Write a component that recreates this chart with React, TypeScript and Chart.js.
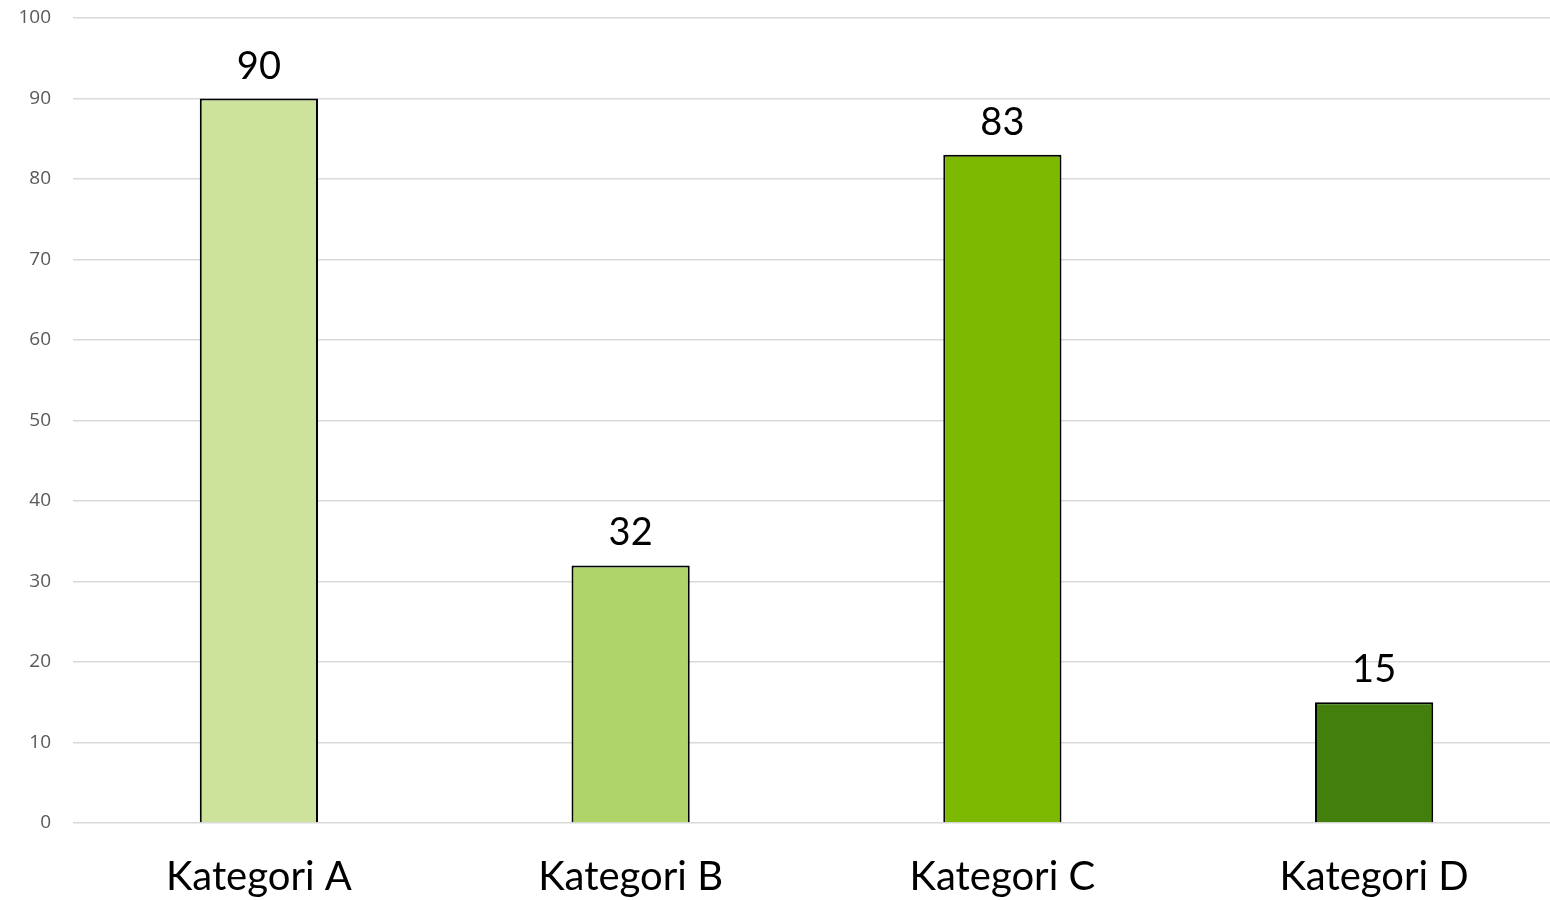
import React, { useEffect, useRef } from "react";
import { Chart, registerables } from "chart.js";

Chart.register(...registerables);

const categories = ["Kategori A", "Kategori B", "Kategori C", "Kategori D"];
const values = [90, 32, 83, 15];
const barColors = ["#cde39b", "#afd468", "#7cb900", "#437f0c"];
const yTicks = [0, 10, 20, 30, 40, 50, 60, 70, 80, 90, 100];

const labelFont = "Lato, 'Noto Sans', sans-serif";

const valueLabelPlugin = {
  id: "valueLabels",
  afterDatasetsDraw(chart: any) {
    const ctx = chart.ctx;
    const meta = chart.getDatasetMeta(0);
    ctx.save();
    ctx.font = `38px ${labelFont}`;
    ctx.fillStyle = "#000000";
    ctx.textAlign = "center";
    ctx.textBaseline = "alphabetic";
    meta.data.forEach((bar: any, i: number) => {
      ctx.fillText(String(values[i]), bar.x, bar.y - 20);
    });
    ctx.restore();
  },
};

export default function App() {
  const canvasRef = useRef<HTMLCanvasElement | null>(null);

  useEffect(() => {
    if (!canvasRef.current) return;
    const chart = new Chart(canvasRef.current, {
      type: "bar",
      data: {
        labels: categories,
        datasets: [
          {
            data: values,
            backgroundColor: barColors,
            borderColor: "#000000",
            borderWidth: 2,
            categoryPercentage: 1,
            barPercentage: 0.318,
          },
        ],
      },
      options: {
        animation: false,
        responsive: false,
        maintainAspectRatio: false,
        layout: { padding: { top: 18, right: 2, left: 0, bottom: 0 } },
        plugins: {
          legend: { display: false },
          tooltip: { enabled: false },
        },
        scales: {
          x: {
            grid: { display: false, drawTicks: false },
            border: { display: false },
            ticks: {
              color: "#000000",
              font: { family: labelFont, size: 40 },
              padding: 30,
              maxRotation: 0,
            },
            afterFit(scale: any) {
              scale.height = 77;
              scale.paddingTop = 0;
              scale.paddingBottom = 0;
              scale.paddingLeft = 0;
              scale.paddingRight = 0;
            },
          },
          y: {
            min: 0,
            max: 100,
            afterBuildTicks(scale: any) {
              scale.ticks = yTicks.map((v) => ({ value: v }));
            },
            grid: { color: "#d9d9d9", lineWidth: 1.5, drawTicks: false },
            border: { display: false },
            ticks: {
              color: "#595959",
              font: { family: "'Open Sans', sans-serif", size: 19 },
              padding: 22,
            },
            afterFit(scale: any) {
              scale.width = 73;
              scale.paddingTop = 0;
              scale.paddingBottom = 0;
              scale.paddingLeft = 0;
              scale.paddingRight = 0;
            },
          },
        },
      },
      plugins: [valueLabelPlugin],
    });
    return () => chart.destroy();
  }, []);

  return (
    <div style={{ position: "fixed", left: 0, top: 0, width: 1550, height: 900, overflow: "hidden", background: "#fff" }}>
      <canvas ref={canvasRef} width={1562} height={900} style={{ display: "block", width: 1562, height: 900 }} />
    </div>
  );
}
